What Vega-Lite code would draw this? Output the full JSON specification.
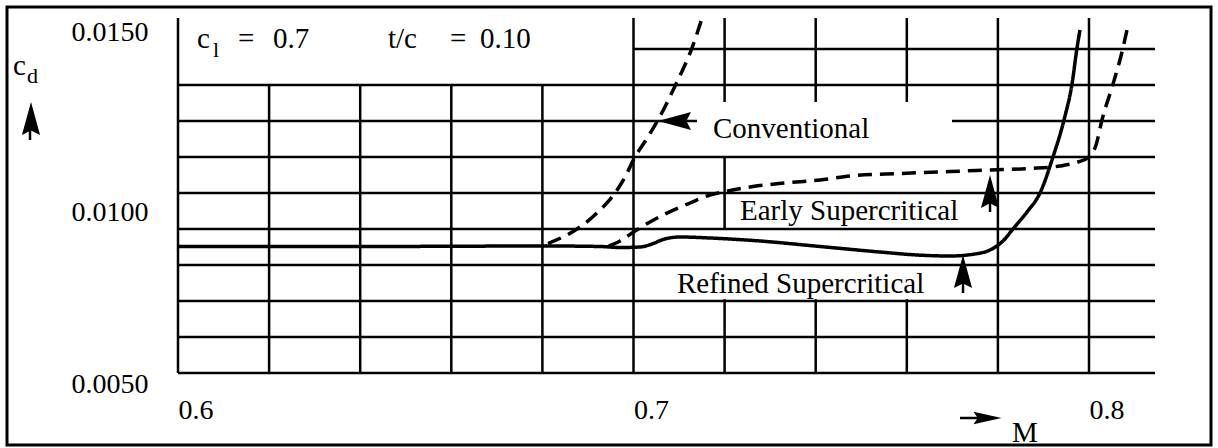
{
  "$schema": "https://vega.github.io/schema/vega-lite/v6.json",
  "width": 1204,
  "height": 438,
  "autosize": "none",
  "padding": {"left": 7, "top": 7, "right": 7, "bottom": 3},
  "background": "white",
  "config": {"view": {"stroke": "black", "strokeWidth": 3, "fill": null}, "font": "Liberation Serif"},
  "datasets": {
    "curves": [
      {"series": "Refined Supercritical", "M": 0.6, "cd": 0.008514},
      {"series": "Refined Supercritical", "M": 0.64, "cd": 0.008514},
      {"series": "Refined Supercritical", "M": 0.68123, "cd": 0.008528},
      {"series": "Refined Supercritical", "M": 0.69265, "cd": 0.008514},
      {"series": "Refined Supercritical", "M": 0.69704, "cd": 0.008486},
      {"series": "Refined Supercritical", "M": 0.70143, "cd": 0.0085},
      {"series": "Refined Supercritical", "M": 0.70406, "cd": 0.008583},
      {"series": "Refined Supercritical", "M": 0.70648, "cd": 0.008708},
      {"series": "Refined Supercritical", "M": 0.71021, "cd": 0.008778},
      {"series": "Refined Supercritical", "M": 0.71679, "cd": 0.00875},
      {"series": "Refined Supercritical", "M": 0.72777, "cd": 0.008667},
      {"series": "Refined Supercritical", "M": 0.74094, "cd": 0.008514},
      {"series": "Refined Supercritical", "M": 0.75411, "cd": 0.008361},
      {"series": "Refined Supercritical", "M": 0.76224, "cd": 0.008278},
      {"series": "Refined Supercritical", "M": 0.76948, "cd": 0.00825},
      {"series": "Refined Supercritical", "M": 0.77497, "cd": 0.008306},
      {"series": "Refined Supercritical", "M": 0.77827, "cd": 0.008417},
      {"series": "Refined Supercritical", "M": 0.78112, "cd": 0.008667},
      {"series": "Refined Supercritical", "M": 0.78331, "cd": 0.009},
      {"series": "Refined Supercritical", "M": 0.78639, "cd": 0.009472},
      {"series": "Refined Supercritical", "M": 0.78924, "cd": 0.01},
      {"series": "Refined Supercritical", "M": 0.79209, "cd": 0.011},
      {"series": "Refined Supercritical", "M": 0.79451, "cd": 0.012028},
      {"series": "Refined Supercritical", "M": 0.79627, "cd": 0.013028},
      {"series": "Refined Supercritical", "M": 0.79737, "cd": 0.014028},
      {"series": "Refined Supercritical", "M": 0.79802, "cd": 0.014528},
      {"series": "Early Supercritical", "M": 0.6944, "cd": 0.008514},
      {"series": "Early Supercritical", "M": 0.69704, "cd": 0.008667},
      {"series": "Early Supercritical", "M": 0.70033, "cd": 0.008944},
      {"series": "Early Supercritical", "M": 0.70648, "cd": 0.009389},
      {"series": "Early Supercritical", "M": 0.7124, "cd": 0.009722},
      {"series": "Early Supercritical", "M": 0.71679, "cd": 0.009944},
      {"series": "Early Supercritical", "M": 0.71965, "cd": 0.010028},
      {"series": "Early Supercritical", "M": 0.72623, "cd": 0.010181},
      {"series": "Early Supercritical", "M": 0.73326, "cd": 0.010278},
      {"series": "Early Supercritical", "M": 0.74094, "cd": 0.010361},
      {"series": "Early Supercritical", "M": 0.74753, "cd": 0.010472},
      {"series": "Early Supercritical", "M": 0.75851, "cd": 0.010542},
      {"series": "Early Supercritical", "M": 0.76948, "cd": 0.010597},
      {"series": "Early Supercritical", "M": 0.77827, "cd": 0.010639},
      {"series": "Early Supercritical", "M": 0.78705, "cd": 0.010681},
      {"series": "Early Supercritical", "M": 0.79363, "cd": 0.01075},
      {"series": "Early Supercritical", "M": 0.79758, "cd": 0.010861},
      {"series": "Early Supercritical", "M": 0.8, "cd": 0.011},
      {"series": "Early Supercritical", "M": 0.80154, "cd": 0.011333},
      {"series": "Early Supercritical", "M": 0.80285, "cd": 0.012028},
      {"series": "Early Supercritical", "M": 0.80527, "cd": 0.013028},
      {"series": "Early Supercritical", "M": 0.80746, "cd": 0.014028},
      {"series": "Early Supercritical", "M": 0.80834, "cd": 0.014528},
      {"series": "Conventional", "M": 0.68123, "cd": 0.008597},
      {"series": "Conventional", "M": 0.6876, "cd": 0.009},
      {"series": "Conventional", "M": 0.69199, "cd": 0.009444},
      {"series": "Conventional", "M": 0.69594, "cd": 0.01},
      {"series": "Conventional", "M": 0.69813, "cd": 0.010444},
      {"series": "Conventional", "M": 0.70033, "cd": 0.011},
      {"series": "Conventional", "M": 0.70274, "cd": 0.011472},
      {"series": "Conventional", "M": 0.70538, "cd": 0.012028},
      {"series": "Conventional", "M": 0.70933, "cd": 0.013028},
      {"series": "Conventional", "M": 0.71284, "cd": 0.014028},
      {"series": "Conventional", "M": 0.71526, "cd": 0.014944}
    ],
    "hgrid": [
      {"cd": 0.014, "M": 0.7, "M2": 0.81449},
      {"cd": 0.013, "M": 0.6, "M2": 0.81449},
      {"cd": 0.012, "M": 0.6, "M2": 0.71394},
      {"cd": 0.012, "M": 0.76992, "M2": 0.81449},
      {"cd": 0.011, "M": 0.6, "M2": 0.81449},
      {"cd": 0.010, "M": 0.6, "M2": 0.81449},
      {"cd": 0.009, "M": 0.6, "M2": 0.81449},
      {"cd": 0.008, "M": 0.6, "M2": 0.81449},
      {"cd": 0.007, "M": 0.6, "M2": 0.81449},
      {"cd": 0.006, "M": 0.6, "M2": 0.81449},
      {"cd": 0.005, "M": 0.6, "M2": 0.81449},
      {"cd": 0.00375, "M": 0.77168, "M2": 0.77607}
    ],
    "vgrid": [
      {"M": 0.6, "cd": 0.005, "cd2": 0.014861},
      {"M": 0.62, "cd": 0.005, "cd2": 0.013},
      {"M": 0.64, "cd": 0.005, "cd2": 0.013},
      {"M": 0.66, "cd": 0.005, "cd2": 0.013},
      {"M": 0.68, "cd": 0.005, "cd2": 0.013},
      {"M": 0.7, "cd": 0.005, "cd2": 0.014861},
      {"M": 0.72, "cd": 0.012528, "cd2": 0.014861},
      {"M": 0.72, "cd": 0.009, "cd2": 0.011},
      {"M": 0.72, "cd": 0.005, "cd2": 0.00705},
      {"M": 0.74, "cd": 0.012528, "cd2": 0.014861},
      {"M": 0.74, "cd": 0.005, "cd2": 0.00705},
      {"M": 0.76, "cd": 0.012528, "cd2": 0.014861},
      {"M": 0.76, "cd": 0.005, "cd2": 0.00705},
      {"M": 0.78, "cd": 0.005, "cd2": 0.014861},
      {"M": 0.8, "cd": 0.005, "cd2": 0.014861},
      {"M": 0.56751, "cd": 0.011472, "cd2": 0.011806},
      {"M": 0.77827, "cd": 0.009472, "cd2": 0.009861},
      {"M": 0.77234, "cd": 0.007222, "cd2": 0.007639}
    ],
    "arrows_up": [
      {"M": 0.56773, "cd": 0.012069},
      {"M": 0.77827, "cd": 0.010042},
      {"M": 0.77234, "cd": 0.007819}
    ],
    "arrows_left": [
      {"M": 0.709, "cd": 0.012}
    ],
    "arrows_right": [
      {"M": 0.77772, "cd": 0.00375}
    ],
    "notes": [
      {"label": "c", "M": 0.60417, "cd": 0.014028},
      {"label": "=", "M": 0.61317, "cd": 0.014028},
      {"label": "0.7", "M": 0.62086, "cd": 0.014028},
      {"label": "t/c", "M": 0.6461, "cd": 0.014028},
      {"label": "=", "M": 0.65971, "cd": 0.014028},
      {"label": "0.10", "M": 0.6663, "cd": 0.014028},
      {"label": "Conventional", "M": 0.71745, "cd": 0.011528},
      {"label": "Early Supercritical", "M": 0.72338, "cd": 0.00925},
      {"label": "Refined Supercritical", "M": 0.70955, "cd": 0.007222},
      {"label": "c", "M": 0.563776, "cd": 0.013278},
      {"label": "M", "M": 0.7831, "cd": 0.003083}
    ],
    "subs": [
      {"label": "l", "M": 0.60768, "cd": 0.013778},
      {"label": "d", "M": 0.56685, "cd": 0.013056}
    ]
  },
  "encoding": {
    "x": {
      "field": "M", "type": "quantitative",
      "scale": {"domain": [0.5624588, 0.8267837], "nice": false, "zero": false},
      "axis": {
        "title": null, "values": [0.6, 0.7, 0.8], "format": ".1f",
        "domain": false, "ticks": false, "tickSize": 0, "grid": false,
        "labelFont": "Liberation Serif", "labelFontSize": 28, "labelColor": "black",
        "labelAlign": "left", "labelBaseline": "alphabetic", "labelPadding": -27,
        "labelFlush": false, "labelOverlap": false
      }
    },
    "y": {
      "field": "cd", "type": "quantitative",
      "scale": {"domain": [0.003, 0.0151667], "nice": false, "zero": false},
      "axis": {
        "title": null, "values": [0.005, 0.01, 0.015], "format": ".4f",
        "domain": false, "ticks": false, "tickSize": 0, "grid": false,
        "labelFont": "Liberation Serif", "labelFontSize": 28, "labelColor": "black",
        "labelAlign": "right", "labelBaseline": "alphabetic", "labelPadding": -141,
        "labelOffset": {"condition": {"test": "datum.value < 0.007", "value": 19}, "value": 27},
        "labelFlush": false, "labelOverlap": false
      }
    }
  },
  "layer": [
    {
      "data": {"name": "hgrid"},
      "mark": {"type": "rule", "color": "black", "strokeWidth": 2.5},
      "encoding": {"x2": {"field": "M2"}}
    },
    {
      "data": {"name": "vgrid"},
      "mark": {"type": "rule", "color": "black", "strokeWidth": 2.5},
      "encoding": {"y2": {"field": "cd2"}}
    },
    {
      "data": {"name": "curves"},
      "mark": {"type": "line", "interpolate": "monotone", "color": "black", "strokeWidth": 3.5},
      "encoding": {
        "detail": {"field": "series", "type": "nominal"},
        "strokeDash": {
          "field": "series", "type": "nominal",
          "scale": {"domain": ["Refined Supercritical", "Early Supercritical", "Conventional"], "range": [[1, 0], [14, 8], [14, 8]]},
          "legend": null
        }
      }
    },
    {
      "data": {"name": "arrows_up"},
      "mark": {"type": "point", "shape": "M0,-1 L0.55,1 L0,0.72 L-0.55,1 Z", "size": 1089, "filled": true, "color": "black", "opacity": 1, "strokeWidth": 0}
    },
    {
      "data": {"name": "arrows_left"},
      "mark": {"type": "point", "shape": "M-1,0 L1,-0.55 L0.72,0 L1,0.55 Z", "size": 1089, "filled": true, "color": "black", "opacity": 1, "strokeWidth": 0}
    },
    {
      "data": {"name": "arrows_right"},
      "mark": {"type": "point", "shape": "M1,0 L-1,-0.45 L-0.7,0 L-1,0.45 Z", "size": 784, "filled": true, "color": "black", "opacity": 1, "strokeWidth": 0}
    },
    {
      "data": {"name": "notes"},
      "mark": {"type": "text", "align": "left", "baseline": "alphabetic", "font": "Liberation Serif", "fontSize": 29, "color": "black"},
      "encoding": {"text": {"field": "label"}}
    },
    {
      "data": {"name": "subs"},
      "mark": {"type": "text", "align": "left", "baseline": "alphabetic", "font": "Liberation Serif", "fontSize": 22, "color": "black"},
      "encoding": {"text": {"field": "label"}}
    }
  ]
}
